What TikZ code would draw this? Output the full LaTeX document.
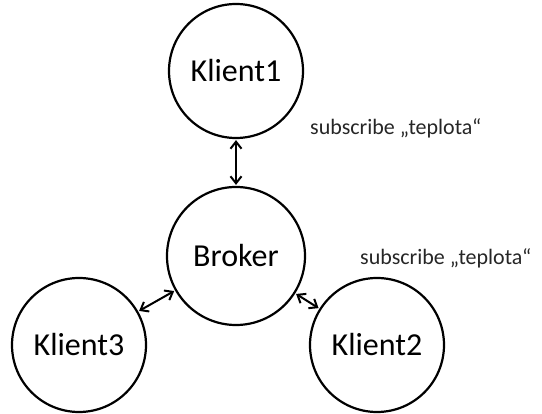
\documentclass[tikz,border=0pt]{standalone}
\usepackage{fontspec}
\setmainfont{Carlito}
\usetikzlibrary{arrows.meta}
\begin{document}
\begin{tikzpicture}[x=1pt,y=-1pt,
  party/.style={circle,draw,line width=2.2pt,minimum size=134pt,inner sep=0pt,font=\fontsize{32}{36}\selectfont},
  link/.style={{Straight Barb[length=7pt,width=11pt]}-{Straight Barb[length=7pt,width=11pt]},line width=2pt,shorten <=1pt,shorten >=1pt},
  note/.style={font=\fontsize{22}{26}\selectfont,anchor=west,inner sep=0pt,text=black!85}]
\useasboundingbox (0,0) rectangle (542,414);
\node[party] (k1) at (236,71) {Klient1};
\node[party,minimum size=138pt] (br) at (236,256) {Broker};
\node[party] (k3) at (79,345) {Klient3};
\node[party] (k2) at (377,345) {Klient2};
\draw[link] (k1) -- (br);
\draw[link] (br) -- (k3);
\draw[link] (br) -- (k2);
\node[note] (s1) at (310,128) {subscribe „teplota“};
\node[note] (s2) at (360,258) {subscribe „teplota“};
\end{tikzpicture}
\end{document}
